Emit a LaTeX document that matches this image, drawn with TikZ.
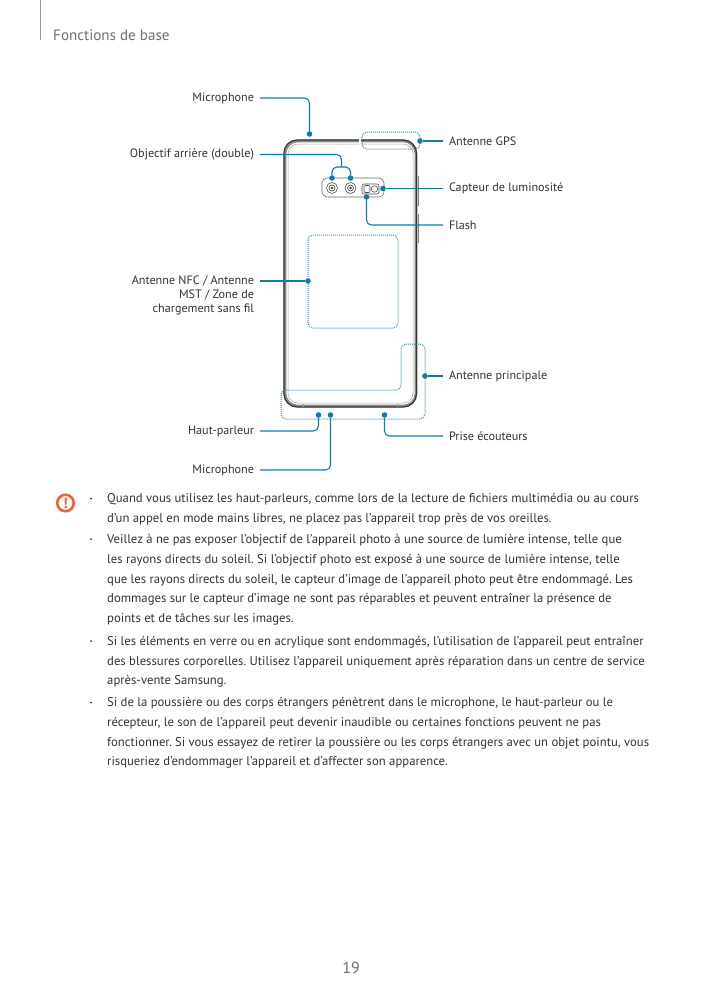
\documentclass[tikz,border=0pt]{standalone}
\usepackage{fontspec}
\setmainfont{PT Sans}
\usepackage{xcolor}
\usetikzlibrary{arrows.meta,positioning,calc}
\definecolor{leadblue}{HTML}{0F7CA8}
\definecolor{dotblue}{HTML}{2E8DB8}
\definecolor{bodyink}{HTML}{333333}
\definecolor{headgray}{HTML}{6E6E6E}
\definecolor{warnred}{HTML}{E8633A}

\begin{document}
\frenchspacing
\begin{tikzpicture}[
  x=1pt, y=-1pt,
  every node/.style={font=\fontsize{12.15}{13.6}\selectfont, text=bodyink},
  lblleft/.style={anchor=east, align=right, inner xsep=3pt, outer xsep=3pt, inner ysep=0pt},
  lblright/.style={anchor=west, align=left, inner xsep=3pt, outer xsep=3pt, inner ysep=0pt},
  pin/.style={circle, fill=leadblue, draw=none, inner sep=0pt, minimum size=5.6pt},
  lead/.style={draw=leadblue, line width=1.1pt, rounded corners=5pt},
  zone/.style={draw=dotblue, line width=1pt, densely dotted, rounded corners=5pt},
  para/.style={anchor=north west, align=left, inner sep=0pt, font=\fontsize{12.7}{19.6}\selectfont},
  bulletdot/.style={circle, fill=bodyink, draw=none, inner sep=0pt, minimum size=2pt},
]
\useasboundingbox (0,0) rectangle (703,994);
% header and page number
\draw[headgray!70, line width=0.9pt] (40,0) -- (40,40);
\node[anchor=west, inner sep=0pt, text=headgray, font=\fontsize{15.1}{18}\selectfont] (pagehead) at (53,35) {Fonctions de base};
\node[text=headgray, inner sep=0pt, font=\fontsize{16}{18}\selectfont] (pagenum) at (351,968) {19};

% phone body
\draw[black!45, line width=2.6pt, rounded corners=13pt] (285,141) rectangle (416,406);
\draw[black!80, line width=1.2pt, rounded corners=13pt] (284,140) rectangle (416.5,407);
\draw[black!35, line width=0.5pt, rounded corners=10pt] (288,144) rectangle (413,403);
\draw[white, line width=2pt] (360,138.5) -- (360,145);
\draw[black!40, line width=0.6pt] (303,404) -- (303,407);
\draw[black!40, line width=0.6pt] (397,404) -- (397,407);
\draw[black!50, line width=0.8pt] (418,176) -- (418,206);
\draw[black!50, line width=0.8pt] (418,214) -- (418,243);

% camera module
\draw[black!60, line width=0.6pt, rounded corners=5pt] (322,178) rectangle (384,197);
\draw[black!70, line width=0.6pt] (332,188) circle (5.5pt);
\draw[black!80, line width=0.6pt] (332,188) circle (3pt);
\fill[black!80] (332,188) circle (1.3pt);
\draw[black!70, line width=0.6pt] (350.5,188) circle (5.5pt);
\draw[black!80, line width=0.6pt] (350.5,188) circle (3pt);
\fill[black!80] (350.5,188) circle (1.3pt);
\draw[black!70, line width=0.6pt, rounded corners=2pt] (362,184) rectangle (379,194);
\draw[black!70, line width=0.6pt, rounded corners=1pt] (364,185.5) rectangle (370,192.5);
\draw[black!70, line width=0.6pt] (374.5,189) circle (3.2pt);

% dotted zones
\draw[zone] (362,132) rectangle (420,149);
\draw[zone] (308,235) rectangle (398,328);
\draw[zone] (401,344) -- (425,344) -- (425,419) -- (281,419) -- (281,390) -- (401,390) -- cycle;

% labels
\node[lblleft] (lblmictop) at (260,98) {Microphone};
\node[lblleft] (lbllens) at (260,154.5) {Objectif arrière (double)};
\node[lblleft] (lblnfc) at (260,295.5) {Antenne NFC / Antenne\\MST / Zone de\\chargement sans fil};
\node[lblleft] (lblspeaker) at (260,431) {Haut-parleur};
\node[lblleft] (lblmicbot) at (260,470) {Microphone};
\node[lblright] (lblgps) at (443,141) {Antenne GPS};
\node[lblright] (lbllight) at (443,188.5) {Capteur de luminosité};
\node[lblright] (lblflash) at (443,225) {Flash};
\node[lblright] (lblmain) at (443,376) {Antenne principale};
\node[lblright] (lbljack) at (443,436) {Prise écouteurs};

% pins
\node[pin] (pinmictop) at (309.5,134) {};
\node[pin] (pinlensa) at (332,178) {};
\node[pin] (pinlensb) at (350.5,178) {};
\node[pin] (pingps) at (420,141) {};
\node[pin] (pinlight) at (383,188.5) {};
\node[pin] (pinflash) at (366.5,197) {};
\node[pin] (pinnfc) at (308,281) {};
\node[pin] (pinmain) at (425,376) {};
\node[pin] (pinspeaker) at (318.5,415) {};
\node[pin] (pinmicbot) at (330.5,415) {};
\node[pin] (pinjack) at (384.5,415) {};
\coordinate (lensfork) at (341.5,167);

% connectors
\draw[lead] (lblmictop.east) -| (pinmictop);
\draw[lead] (lbllens.east) -| (lensfork);
\draw[lead] (pinlensa) |- (lensfork) -| (pinlensb);
\draw[lead] (pingps) -- (lblgps.west);
\draw[lead] (pinlight) -- (lbllight.west);
\draw[lead] (pinflash) |- (lblflash.west);
\draw[lead] (lblnfc.east |- pinnfc) -- (pinnfc);
\draw[lead] (pinmain) -- (lblmain.west);
\draw[lead] (lblspeaker.east) -| (pinspeaker);
\draw[lead] (lblmicbot.east) -| (pinmicbot);
\draw[lead] (pinjack) |- (lbljack.west);

% warning icon
\node[circle, draw=warnred, line width=2.6pt, fill=white, minimum size=16.5pt, inner sep=0pt, text=warnred, font=\fontsize{15}{15}\bfseries\selectfont] (warnicon) at (65.5,503) {!};

% notes
\node[bulletdot] (bulleta) at (91,498.5) {};
\node[para] (notea) at (107,493.5) {Quand vous utilisez les haut-parleurs, comme lors de la lecture de fichiers multimédia ou au cours\\d’un appel en mode mains libres, ne placez pas l’appareil trop près de vos oreilles.};
\node[bulletdot] (bulletb) at (91,539) {};
\node[para] (noteb) at (107,534.5) {Veillez à ne pas exposer l’objectif de l’appareil photo à une source de lumière intense, telle que\\les rayons directs du soleil. Si l’objectif photo est exposé à une source de lumière intense, telle\\que les rayons directs du soleil, le capteur d’image de l’appareil photo peut être endommagé. Les\\dommages sur le capteur d’image ne sont pas réparables et peuvent entraîner la présence de\\points et de tâches sur les images.};
\node[bulletdot] (bulletc) at (91,641) {};
\node[para] (notec) at (107,636) {Si les éléments en verre ou en acrylique sont endommagés, l’utilisation de l’appareil peut entraîner\\des blessures corporelles. Utilisez l’appareil uniquement après réparation dans un centre de service\\après-vente Samsung.};
\node[bulletdot] (bulletd) at (91,702.5) {};
\node[para] (noted) at (107,697.5) {Si de la poussière ou des corps étrangers pénètrent dans le microphone, le haut-parleur ou le\\récepteur, le son de l’appareil peut devenir inaudible ou certaines fonctions peuvent ne pas\\fonctionner. Si vous essayez de retirer la poussière ou les corps étrangers avec un objet pointu, vous\\risqueriez d’endommager l’appareil et d’affecter son apparence.};
\end{tikzpicture}
\end{document}
